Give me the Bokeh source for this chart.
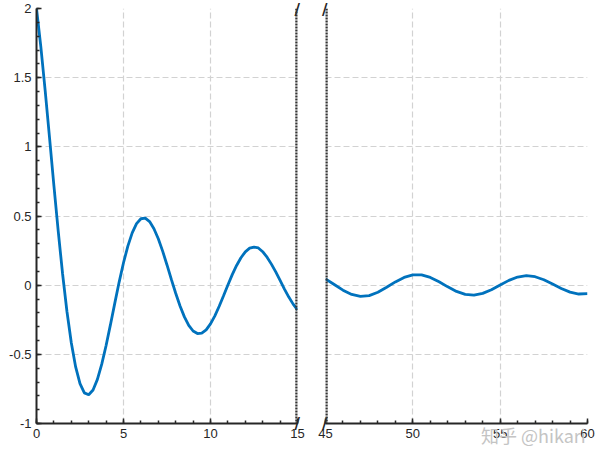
import numpy as np
from bokeh.plotting import figure
from bokeh.layouts import row
from bokeh.models import Range1d, FixedTicker, Span, LinearAxis
from bokeh.embed import file_html
from bokeh.resources import INLINE

# ---- data ----
x_left = [0, 0.25, 0.5, 0.75, 1.0, 1.25, 1.5, 1.75, 2.0, 2.25, 2.5, 2.75, 3.0, 3.25, 3.5, 3.75,
          4.0, 4.25, 4.5, 4.75, 5.0, 5.25, 5.5, 5.75, 6.0, 6.25, 6.5, 6.75, 7.0, 7.25, 7.5, 7.75,
          8.0, 8.25, 8.5, 8.75, 9.0, 9.25, 9.5, 9.75, 10.0, 10.25, 10.5, 10.75, 11.0, 11.25, 11.5,
          11.75, 12.0, 12.25, 12.5, 12.75, 13.0, 13.25, 13.5, 13.75, 14.0, 14.25, 14.5, 14.75, 15.0]
y_left = [2.000, 1.7225, 1.4041, 1.0643, 0.7204, 0.3881, 0.0808, -0.1901, -0.4161, -0.5912,
          -0.7121, -0.7784, -0.7920, -0.7574, -0.6811, -0.5708, -0.4358, -0.2855, -0.1297, 0.0223,
          0.1621, 0.2825, 0.3780, 0.4445, 0.4801, 0.4848, 0.4596, 0.4082, 0.3351, 0.2462, 0.1460,
          0.0415, -0.0582, -0.1504, -0.2293, -0.2910, -0.3313, -0.3498, -0.3468, -0.3232, -0.2797,
          -0.2216, -0.1522, -0.0765, 0.0014, 0.0761, 0.1424, 0.1980, 0.2411, 0.2673, 0.2751, 0.2691,
          0.2420, 0.2019, 0.1521, 0.0958, 0.0342, -0.0282, -0.0862, -0.1371, -0.1788]

x_right = [45, 45.5, 46, 46.5, 47, 47.5, 48, 48.5, 49, 49.5, 50, 50.5, 51, 51.5, 52, 52.5,
           53, 53.5, 54, 54.5, 55, 55.5, 56, 56.5, 57, 57.5, 58, 58.5, 59, 59.5, 60]
y_right = [0.0447, 0.0045, -0.0360, -0.0670, -0.0810, -0.0752, -0.0513, -0.0153, 0.0236, 0.0560,
           0.0742, 0.0741, 0.0560, 0.0247, -0.0121, -0.0452, -0.0668, -0.0718, -0.0592, -0.0326,
           0.0015, 0.0347, 0.0588, 0.0683, 0.0610, 0.0390, 0.0079, -0.0246, -0.0506, -0.0639, -0.0614]

x_ticks_left = [0, 5, 10, 15]
x_tick_labels_left = ["0", "5", "10", "15"]
x_ticks_right = [45, 50, 55, 60]
x_tick_labels_right = ["45", "50", "55", "60"]
y_ticks = [-1, -0.5, 0, 0.5, 1, 1.5, 2]
y_tick_labels = ["-1", "-0.5", "0", "0.5", "1", "1.5", "2"]
break_y = [-1, 2]
break_labels = ["/", "/"]
watermark = "知乎 @hikari"
watermark_x = 56.9

LINE = "#0072BD"
AX = "#262626"
GRID = "#d2d2d2"
FONT = "Liberation Sans"

y_minor = [round(v, 2) for v in np.arange(-1, 2.0001, 0.1)]
x_minor_left = list(range(0, 16))
x_minor_right = list(range(45, 61))


def style(p, xt, xlabels, xminor, show_y):
    p.outline_line_color = None
    p.background_fill_color = "white"
    p.border_fill_color = "white"
    p.xaxis.ticker = FixedTicker(ticks=xt, minor_ticks=xminor)
    p.xaxis.major_label_overrides = {t: l for t, l in zip(xt, xlabels)}
    for ax in p.axis:
        ax.axis_line_color = AX
        ax.axis_line_width = 2
        ax.major_tick_line_color = AX
        ax.minor_tick_line_color = AX
        ax.major_tick_line_width = 1.5
        ax.minor_tick_line_width = 1.5
        ax.major_tick_in = 5
        ax.major_tick_out = 0
        ax.minor_tick_in = 3
        ax.minor_tick_out = 0
        ax.major_label_text_font = FONT
        ax.major_label_text_font_size = "13px"
        ax.major_label_text_color = AX
        ax.major_label_standoff = 5
    if show_y:
        p.yaxis.ticker = FixedTicker(ticks=y_ticks, minor_ticks=y_minor)
        p.yaxis.major_label_overrides = {t: l for t, l in zip(y_ticks, y_tick_labels)}
    p.xgrid.ticker = FixedTicker(ticks=xt)
    p.ygrid.ticker = FixedTicker(ticks=y_ticks)
    for g in p.grid:
        g.grid_line_color = GRID
        g.grid_line_dash = "6 3"
        g.grid_line_width = 1.2


def break_axis(standoff):
    # axis without line/ticks whose labels are the "/" break marks
    return LinearAxis(ticker=FixedTicker(ticks=break_y, minor_ticks=[]),
                      major_label_overrides={t: l for t, l in zip(break_y, break_labels)},
                      axis_line_color=None, major_tick_line_color=None,
                      minor_tick_line_color=None, major_label_standoff=standoff,
                      major_label_text_font="DejaVu Sans", major_label_text_font_style="bold",
                      major_label_text_font_size="15px", major_label_text_color=AX)


left = figure(frame_width=261, frame_height=415, x_range=Range1d(0, 15), y_range=Range1d(-1, 2),
              output_backend="svg", toolbar_location=None,
              min_border_left=36, min_border_right=14, min_border_top=8, min_border_bottom=24)
style(left, x_ticks_left, x_tick_labels_left, x_minor_left, True)
left.line(x_left, y_left, line_color=LINE, line_width=2.8)
left.add_layout(Span(location=15, dimension="height", line_color="#333333",
                     line_dash="2 1", line_width=4.5))
left.add_layout(break_axis(-9), "right")

right = figure(frame_width=262, frame_height=415, x_range=Range1d(45, 60), y_range=Range1d(-1, 2),
               output_backend="svg", toolbar_location=None, y_axis_location=None,
               min_border_left=14, min_border_right=8, min_border_top=8, min_border_bottom=24)
style(right, x_ticks_right, x_tick_labels_right, x_minor_right, False)
right.line(x_right, y_right, line_color=LINE, line_width=2.8)
right.add_layout(Span(location=45, dimension="height", line_color="#333333",
                      line_dash="2 1", line_width=4.5))
right.add_layout(break_axis(-8), "left")

wm_axis = LinearAxis(ticker=FixedTicker(ticks=[watermark_x], minor_ticks=[]),
                     major_label_overrides={watermark_x: watermark},
                     axis_line_color=None, major_tick_line_color=None,
                     minor_tick_line_color=None, major_label_standoff=-25,
                     major_label_text_font="Noto Sans CJK SC",
                     major_label_text_font_size="18px", major_label_text_color="#c4c4c4")
right.add_layout(wm_axis, "below")

layout = row(left, right)
open("out.html", "w").write(file_html(layout, INLINE))
